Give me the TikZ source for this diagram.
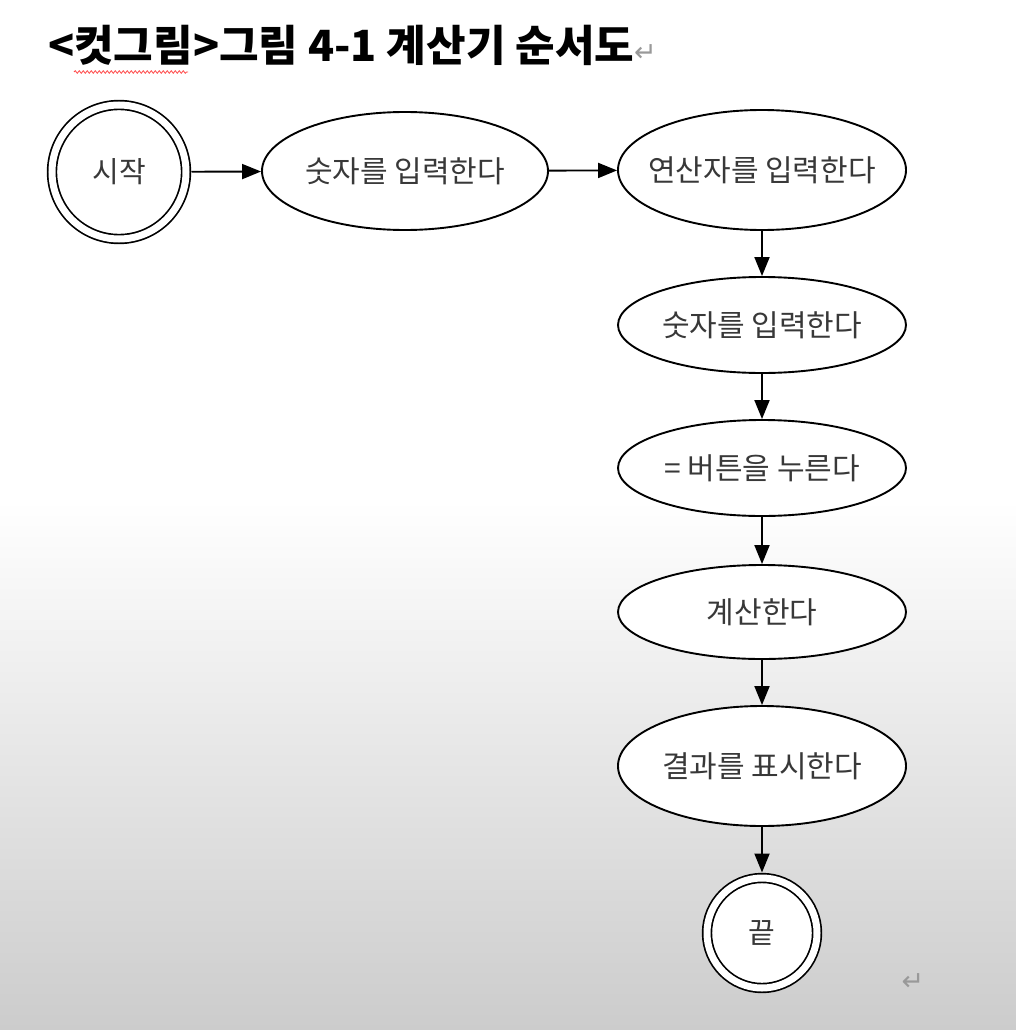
\documentclass[tikz,border=0pt]{standalone}
\usepackage{fontspec}
\setmainfont{Noto Sans CJK KR}
\newfontfamily\symfont{DejaVu Sans}
\usepackage{tikz}
\usetikzlibrary{shapes.geometric,arrows.meta,decorations.pathmorphing}

\tikzset{
  buoc/.style={ellipse, draw, line width=1.9pt, fill=white, inner xsep=-30pt,
    inner ysep=0pt, text=black!78, font=\fontsize{30}{30}\selectfont},
  dau/.style={circle, draw, double, double distance=7pt, line width=1.7pt,
    fill=white, inner sep=0pt, outer sep=5.5pt, text=black!78,
    font=\fontsize{29}{29}\selectfont},
  mui/.style={-{Triangle[length=19pt,width=15pt]}, line width=1.9pt}
}

\begin{document}
\begin{tikzpicture}[x=1pt,y=-1pt]
            % Nền
            \useasboundingbox (0,0) rectangle (1016,1030);
            \fill[white] (0,0) rectangle (1016,500);
            \shade[top color=white, bottom color=black!20] (0,500) rectangle (1016,1030);
            % Tiêu đề
            \node[anchor=base west, inner sep=0pt, font=\fontsize{43}{43}\selectfont\bfseries] (tieude) at (48,62)
              {<컷그림>그림 4-1 계산기 순서도{\symfont\mdseries\color{black!40}\fontsize{27}{27}\selectfont ↵}};
            \draw[red!70, line width=0.8pt, decorate,
              decoration={snake, segment length=4pt, amplitude=1.3pt}] (74,72) -- (188,72);
            % Các nút
            \node[dau, minimum size=134pt] (batdau) at (119,172) {시작};
            \node[buoc, minimum width=286pt, minimum height=118pt] (so1) at (405,171) {숫자를 입력한다};
            \node[buoc, minimum width=288pt, minimum height=120pt] (toantu) at (762,170) {연산자를 입력한다};
            \node[buoc, minimum width=288pt, minimum height=96pt] (so2) at (762,325) {숫자를 입력한다};
            \node[buoc, minimum width=288pt, minimum height=96pt] (bang) at (762,468) {= 버튼을 누른다};
            \node[buoc, minimum width=288pt, minimum height=94pt] (tinh) at (762,612) {계산한다};
            \node[buoc, minimum width=288pt, minimum height=120pt] (ketqua) at (762,766) {결과를 표시한다};
            \node[dau, minimum size=110pt] (ketthuc) at (762,933) {끝};
            % Các mũi tên
            \draw[mui] (batdau) -- (so1);
            \draw[mui] (so1) -- (toantu);
            \draw[mui] (toantu) -- (so2);
            \draw[mui] (so2) -- (bang);
            \draw[mui] (bang) -- (tinh);
            \draw[mui] (tinh) -- (ketqua);
            \draw[mui] (ketqua) -- (ketthuc);
            % Dấu xuống dòng
            \node[font=\symfont\fontsize{27}{27}\selectfont, text=black!40] (xuongdong) at (913,982) {↵};
        \end{tikzpicture}
\end{document}
